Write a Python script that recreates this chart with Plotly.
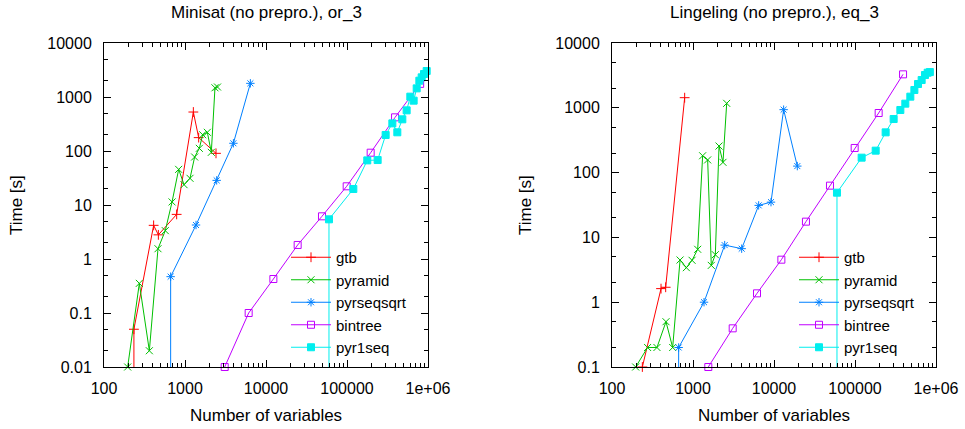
import plotly.graph_objects as go

# ---------------- data ----------------
series_names = ["gtb", "pyramid", "pyrseqsqrt", "bintree", "pyr1seq"]

# Left panel: Minisat (no prepro.), or_3
minisat_gtb_x = [234, 234, 410, 469, 789, 1268, 1475, 2414]
minisat_gtb_y = [0.001, 0.05, 4.2, 2.8, 6.7, 527, 177, 90.5]
minisat_pyramid_x = [196, 273, 363, 464, 571, 692, 835, 973, 1153, 1315, 1503, 1652, 1887, 2113, 2344, 2520]
minisat_pyramid_y = [0.01, 0.354, 0.02, 1.55, 3.35, 11.4, 45.7, 23.8, 31.2, 77.4, 112, 200, 222, 94.5, 1480, 1530]
minisat_pyrseqsqrt_x = [665, 665, 1368, 2461, 3957, 6412]
minisat_pyrseqsqrt_y = [0.001, 0.471, 4.26, 28.6, 139, 1791]
minisat_bintree_x = [3090, 6110, 12330, 24600, 49100, 99100, 196000, 392000, 800000]
minisat_bintree_y = [0.01, 0.1, 0.426, 1.82, 6.17, 22.2, 93, 420, 1750]
minisat_pyr1seq_x = [59900, 59900, 119700, 178000, 239000, 300000, 363000, 418000, 482000,
                     545000, 605000, 665000, 725000, 782000, 835000, 893000, 963000]
minisat_pyr1seq_y = [0.001, 5.43, 19.8, 67, 68, 198, 325, 222, 386,
                     566, 1014, 855, 1445, 2005, 2312, 2666, 3030]

# Right panel: Lingeling (no prepro.), eq_3
lingeling_gtb_x = [237, 403, 460, 789]
lingeling_gtb_y = [0.1, 1.62, 1.70, 1433]
lingeling_pyramid_x = [196, 275, 359, 464, 561, 692, 828, 973, 1143, 1315, 1517, 1682, 1887, 2095, 2344, 2606]
lingeling_pyramid_y = [0.1, 0.2, 0.2, 0.5, 0.2, 4.48, 3.41, 4.43, 6.55, 182, 157, 3.7, 5.41, 257, 144, 1172]
lingeling_pyrseqsqrt_x = [665, 665, 1368, 2461, 3990, 6470, 9180, 13150, 19400]
lingeling_pyrseqsqrt_y = [0.001, 0.2, 1.0, 7.6, 6.7, 31.2, 35, 936, 126]
lingeling_bintree_x = [1545, 3090, 6170, 12330, 24800, 49100, 99100, 196000, 392000]
lingeling_bintree_y = [0.1, 0.395, 1.37, 4.53, 17.5, 62.9, 240, 831, 3285]
lingeling_pyr1seq_x = [59900, 59900, 120800, 180000, 239000, 300000, 363000, 418000, 482000,
                       541000, 600000, 665000, 731000, 789000, 840000]
lingeling_pyr1seq_y = [0.001, 49, 170, 218, 418, 671, 925, 1158, 1485,
                       1883, 2330, 2683, 3204, 3480, 3560]

x_tick_vals = [100, 1000, 10000, 100000, 1000000]
x_tick_text = ["100", "1000", "10000", "100000", "1e+06"]
left_y_tick_vals = [0.01, 0.1, 1, 10, 100, 1000, 10000]
left_y_tick_text = ["0.01", "0.1", "1", "10", "100", "1000", "10000"]
right_y_tick_vals = [0.1, 1, 10, 100, 1000, 10000]
right_y_tick_text = ["0.1", "1", "10", "100", "1000", "10000"]

titles = ["Minisat (no prepro.), or_3", "Lingeling (no prepro.), eq_3"]
x_title = "Number of variables"
y_title = "Time [s]"

# ---------------- styles ----------------
W, H = 965, 429
FONT = "Liberation Sans, Arial, sans-serif"
FS = 16
colors = {"gtb": "#ff0000", "pyramid": "#00c000", "pyrseqsqrt": "#0080ff",
          "bintree": "#c000ff", "pyr1seq": "#00eeee"}
symbols = {"gtb": "cross-thin", "pyramid": "x-thin", "pyrseqsqrt": "asterisk",
           "bintree": "square-open", "pyr1seq": "square"}
sizes = {"gtb": 7, "pyramid": 7, "pyrseqsqrt": 7, "bintree": 7, "pyr1seq": 7}

panels = [
    dict(xa="x", ya="y", legend="legend",
         data={"gtb": (minisat_gtb_x, minisat_gtb_y),
               "pyramid": (minisat_pyramid_x, minisat_pyramid_y),
               "pyrseqsqrt": (minisat_pyrseqsqrt_x, minisat_pyrseqsqrt_y),
               "bintree": (minisat_bintree_x, minisat_bintree_y),
               "pyr1seq": (minisat_pyr1seq_x, minisat_pyr1seq_y)}),
    dict(xa="x2", ya="y2", legend="legend2",
         data={"gtb": (lingeling_gtb_x, lingeling_gtb_y),
               "pyramid": (lingeling_pyramid_x, lingeling_pyramid_y),
               "pyrseqsqrt": (lingeling_pyrseqsqrt_x, lingeling_pyrseqsqrt_y),
               "bintree": (lingeling_bintree_x, lingeling_bintree_y),
               "pyr1seq": (lingeling_pyr1seq_x, lingeling_pyr1seq_y)}),
]

fig = go.Figure()
for p in panels:
    for name in series_names:
        xs, ys = p["data"][name]
        c = colors[name]
        fig.add_trace(go.Scatter(
            x=xs, y=ys, name=name, mode="lines+markers",
            xaxis=p["xa"], yaxis=p["ya"], legend=p["legend"],
            line=dict(color=c, width=1),
            marker=dict(symbol=symbols[name], size=sizes[name], color=c,
                        line=dict(color=c, width=1)),
            cliponaxis=False,
        ))

# plot-area geometry in pixels
left_px = (104, 428)
right_px = (612, 936)
top_px, bottom_px = 43, 367

def xdom(a, b):
    return [a / W, b / W]

ydom = [(H - bottom_px) / H, (H - top_px) / H]

x_minor = [m * 10 ** k for k in range(2, 6) for m in range(2, 10)]
y_minor = [m * 10.0 ** k for k in range(-3, 4) for m in (2, 5)]

axis_common = dict(
    type="log", showgrid=False, zeroline=False, showline=True, linecolor="black",
    linewidth=1, mirror="allticks", ticks="inside", ticklen=7, tickcolor="black",
    tickwidth=1, tickfont=dict(family=FONT, size=FS, color="black"), automargin=False,
)

def minor(vals):
    return dict(tickmode="array", tickvals=vals, ticks="inside", ticklen=4,
                tickcolor="black", showgrid=False)

legend_common = dict(xanchor="right", yanchor="bottom", bgcolor="rgba(0,0,0,0)",
                     font=dict(family=FONT, size=15), tracegroupgap=0, itemwidth=40)

fig.update_layout(
    width=W, height=H, margin=dict(l=0, r=0, t=0, b=0, autoexpand=False),
    paper_bgcolor="white", plot_bgcolor="white",
    font=dict(family=FONT, size=FS, color="black"),
    xaxis=dict(axis_common, domain=xdom(*left_px), range=[2, 6], anchor="y",
               tickmode="array", tickvals=x_tick_vals, ticktext=x_tick_text,
               ticklabelstandoff=7, minor=minor(x_minor)),
    yaxis=dict(axis_common, domain=ydom, range=[-2, 4], anchor="x",
               tickmode="array", tickvals=left_y_tick_vals, ticktext=left_y_tick_text,
               ticklabelstandoff=8, minor=minor(y_minor)),
    xaxis2=dict(axis_common, domain=xdom(*right_px), range=[2, 6], anchor="y2",
                tickmode="array", tickvals=x_tick_vals, ticktext=x_tick_text,
                ticklabelstandoff=7, minor=minor(x_minor)),
    yaxis2=dict(axis_common, domain=ydom, range=[-1, 4], anchor="x2",
                tickmode="array", tickvals=right_y_tick_vals, ticktext=right_y_tick_text,
                ticklabelstandoff=8, minor=minor(y_minor)),
    legend=dict(legend_common, x=412 / W, y=(H - 364) / H),
    legend2=dict(legend_common, x=920 / W, y=(H - 364) / H),
)

annotations = []
for (a, b), t, ylab_x in [(left_px, titles[0], 17), (right_px, titles[1], 526)]:
    cx = (a + b) / 2 / W
    annotations.append(dict(text=t, x=cx, y=1 - 13 / H, xref="paper", yref="paper",
                            showarrow=False, xanchor="center", yanchor="middle",
                            font=dict(family=FONT, size=FS + 1)))
    annotations.append(dict(text=x_title, x=cx, y=1 - 415 / H, xref="paper", yref="paper",
                            showarrow=False, xanchor="center", yanchor="middle",
                            font=dict(family=FONT, size=FS + 1)))
    annotations.append(dict(text=y_title, x=ylab_x / W, y=1 - 205 / H, xref="paper",
                            yref="paper", showarrow=False, textangle=-90,
                            xanchor="center", yanchor="middle",
                            font=dict(family=FONT, size=FS + 1)))
fig.update_layout(annotations=annotations)

fig.write_html("out.html", config={"displayModeBar": False},
               post_script="document.body.style.margin='0';document.body.style.overflow='hidden';")
